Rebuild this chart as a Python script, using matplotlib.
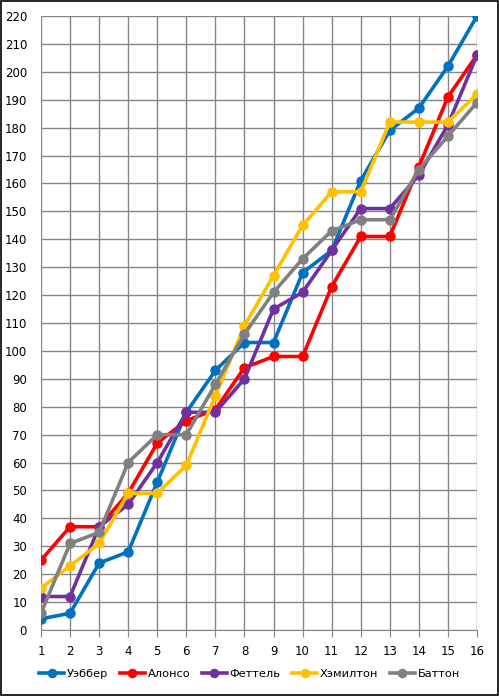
import matplotlib
matplotlib.use("Agg")
import matplotlib.pyplot as plt
from matplotlib.patches import Rectangle

races = list(range(1, 17))
series_names = ["Уэббер", "Алонсо", "Феттель", "Хэмилтон", "Баттон"]
webber = [4, 6, 24, 28, 53, 78, 93, 103, 103, 128, 136, 161, 179, 187, 202, 220]
alonso = [25, 37, 37, 49, 67, 75, 79, 94, 98, 98, 123, 141, 141, 166, 191, 206]
vettel = [12, 12, 37, 45, 60, 78, 78, 90, 115, 121, 136, 151, 151, 163, 181, 206]
hamilton = [15, 23, 31, 49, 49, 59, 84, 109, 127, 145, 157, 157, 182, 182, 182, 192]
button = [6, 31, 35, 60, 70, 70, 88, 106, 121, 133, 143, 147, 147, 165, 177, 189]
colors = ["#0070C0", "#FF0000", "#7030A0", "#FFC000", "#808080"]
y_ticks = list(range(0, 221, 10))

fig = plt.figure(figsize=(4.99, 6.96), dpi=100)
ax = fig.add_axes([41/499, 1 - 630/696, (477 - 41)/499, (630 - 16)/696])

for name, vals, c in zip(series_names, [webber, alonso, vettel, hamilton, button], colors):
    ax.plot(races, vals, color=c, lw=2.6, marker="o", markersize=6.5, label=name,
            solid_joinstyle="round", zorder=3)

ax.set_xlim(1, 16)
ax.set_ylim(0, 220)
ax.set_xticks(races)
ax.set_yticks(y_ticks)
ax.grid(True, color="#868686", lw=1.0, zorder=0)
ax.set_axisbelow(True)
for s in ["top", "right", "left"]:
    ax.spines[s].set_visible(False)
ax.spines["bottom"].set_color("#868686")
ax.tick_params(axis="x", length=5, color="#868686", labelsize=8.5, pad=6)
ax.tick_params(axis="y", length=0, labelsize=8.5, pad=10)

leg = fig.legend(loc="center", bbox_to_anchor=(0.5, 1 - 674/696), ncol=5, frameon=False,
                 fontsize=8.2, handlelength=2.2, handletextpad=0.25, columnspacing=1.0,
                 markerscale=0.9)

fig.patches.append(Rectangle((0.002, 0.002), 0.996, 0.996, transform=fig.transFigure,
                             fill=False, edgecolor="black", lw=1.2))
fig.savefig("out.png", dpi=100)
